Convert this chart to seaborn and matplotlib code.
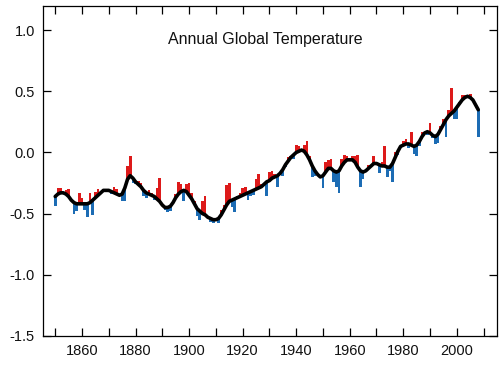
import numpy as np
import pandas as pd
import seaborn as sns
import matplotlib
import matplotlib.pyplot as plt
from matplotlib.ticker import MultipleLocator

matplotlib.use('Agg')

# Годы и значения (аномалии, градусы C)
years = list(range(1850, 2009))

annual = [
    -0.44, -0.29, -0.29, -0.32, -0.31, -0.30, -0.40, -0.50, -0.48, -0.33,  # 1850-1859
    -0.37, -0.47, -0.53, -0.33, -0.51, -0.32, -0.30, -0.34, -0.30, -0.30,  # 1860-1869
    -0.31, -0.34, -0.28, -0.30, -0.35, -0.40, -0.40, -0.11, -0.03, -0.25,  # 1870-1879
    -0.26, -0.23, -0.25, -0.36, -0.37, -0.31, -0.33, -0.39, -0.29, -0.21,  # 1880-1889
    -0.42, -0.47, -0.49, -0.48, -0.40, -0.34, -0.24, -0.26, -0.40, -0.26,  # 1890-1899
    -0.25, -0.33, -0.40, -0.52, -0.55, -0.40, -0.36, -0.52, -0.57, -0.58,  # 1900-1909
    -0.56, -0.58, -0.47, -0.43, -0.27, -0.25, -0.45, -0.49, -0.36, -0.33,  # 1910-1919
    -0.29, -0.28, -0.39, -0.36, -0.35, -0.22, -0.18, -0.26, -0.25, -0.36,  # 1920-1929
    -0.16, -0.15, -0.18, -0.28, -0.16, -0.19, -0.12, -0.04, -0.03, -0.05,  # 1930-1939
    0.06, 0.05, 0.00, 0.06, 0.09, -0.03, -0.20, -0.19, -0.17, -0.20,       # 1940-1949
    -0.29, -0.08, -0.06, -0.05, -0.24, -0.28, -0.33, -0.05, -0.02, -0.03,  # 1950-1959
    -0.06, -0.03, -0.03, -0.02, -0.28, -0.22, -0.14, -0.10, -0.12, -0.03,  # 1960-1969
    -0.09, -0.17, -0.08, 0.05, -0.20, -0.15, -0.24, 0.00, -0.02, 0.04,     # 1970-1979
    0.09, 0.11, 0.04, 0.17, -0.01, -0.03, 0.05, 0.17, 0.17, 0.14,          # 1980-1989
    0.24, 0.12, 0.07, 0.08, 0.22, 0.27, 0.13, 0.35, 0.53, 0.27,            # 1990-1999
    0.27, 0.41, 0.47, 0.47, 0.46, 0.48, 0.42, 0.40, 0.13,                  # 2000-2008
]

# сглаженная кривая
smooth = [
    -0.36, -0.34, -0.33, -0.33, -0.34, -0.36, -0.39, -0.41, -0.42, -0.42,
    -0.42, -0.42, -0.42, -0.41, -0.39, -0.37, -0.35, -0.33, -0.31, -0.31,
    -0.31, -0.32, -0.33, -0.34, -0.35, -0.34, -0.29, -0.22, -0.19, -0.21,
    -0.24, -0.26, -0.28, -0.31, -0.33, -0.34, -0.35, -0.36, -0.38, -0.40,
    -0.43, -0.45, -0.45, -0.44, -0.41, -0.37, -0.34, -0.32, -0.31, -0.32,
    -0.35, -0.38, -0.42, -0.46, -0.48, -0.50, -0.51, -0.53, -0.54, -0.55,
    -0.55, -0.54, -0.51, -0.47, -0.43, -0.40, -0.39, -0.38, -0.37, -0.36,
    -0.35, -0.34, -0.33, -0.32, -0.31, -0.30, -0.29, -0.28, -0.26, -0.24,
    -0.23, -0.21, -0.20, -0.19, -0.17, -0.14, -0.10, -0.07, -0.04, -0.02,
    0.00, 0.01, 0.02, 0.01, -0.02, -0.06, -0.11, -0.15, -0.18, -0.20,
    -0.19, -0.16, -0.13, -0.13, -0.15, -0.16, -0.15, -0.11, -0.08, -0.06,
    -0.06, -0.06, -0.08, -0.12, -0.15, -0.16, -0.15, -0.13, -0.11, -0.09,
    -0.09, -0.10, -0.11, -0.11, -0.12, -0.12, -0.09, -0.04, 0.01, 0.05,
    0.06, 0.07, 0.07, 0.06, 0.05, 0.06, 0.09, 0.13, 0.16, 0.17,
    0.16, 0.14, 0.13, 0.15, 0.19, 0.23, 0.27, 0.30, 0.32, 0.34,
    0.37, 0.40, 0.43, 0.45, 0.46, 0.45, 0.43, 0.39, 0.35,
]

assert len(annual) == len(years) and len(smooth) == len(years)

data = pd.DataFrame({'year': years, 'annual': annual, 'smooth': smooth})
data['diff'] = data['annual'] - data['smooth']

sns.set_style('ticks')
plt.rcParams['font.family'] = ['Liberation Sans', 'DejaVu Sans']
plt.rcParams['axes.unicode_minus'] = False

fig = plt.figure(figsize=(5.02, 3.65), dpi=100)
ax = fig.add_axes([0.086, 0.080, 0.904, 0.904])

colors = np.where(data['diff'] >= 0, '#dd1a1a', '#1c6cb4')
ax.bar(data['year'], data['diff'], bottom=data['smooth'], width=1.0,
       color=colors, linewidth=0, zorder=2)

sns.lineplot(data=data, x='year', y='smooth', color='black', linewidth=2.6,
             ax=ax, zorder=3)

ax.set_xlim(1845.5, 2015)
ax.set_ylim(-1.5, 1.2)
ax.set_xticks(range(1860, 2001, 20))
ax.xaxis.set_minor_locator(MultipleLocator(10))
ax.yaxis.set_major_locator(MultipleLocator(0.5))
ax.set_xlabel('')
ax.set_ylabel('')

ax.tick_params(which='both', direction='in', top=True, right=True,
               length=6, width=0.9, color='black', labelsize=10.5,
               labelcolor='#111111')
ax.tick_params(axis='x', pad=6)
ax.tick_params(axis='y', pad=6)
for s in ax.spines.values():
    s.set_visible(True)
    s.set_linewidth(0.9)
    s.set_color('black')

ax.text(0.489, 0.897, 'Annual Global Temperature', transform=ax.transAxes,
        ha='center', va='center', fontsize=11.5, color='#111111')

plt.savefig('out.png', dpi=100)
